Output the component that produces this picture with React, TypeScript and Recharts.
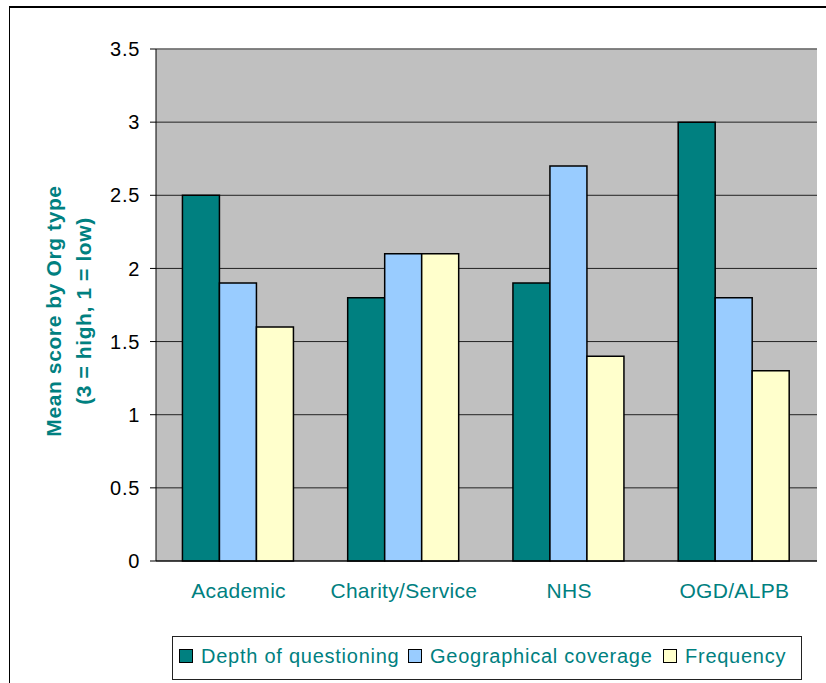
import { Bar, BarChart, CartesianGrid, Label, ReferenceLine, XAxis, YAxis } from 'recharts'

const orgTypes = ['Academic', 'Charity/Service', 'NHS', 'OGD/ALPB']
const depthOfQuestioning = [2.5, 1.8, 1.9, 3.0]
const geographicalCoverage = [1.9, 2.1, 2.7, 1.8]
const frequency = [1.6, 2.1, 1.4, 1.3]
const yTicks = [0, 0.5, 1, 1.5, 2, 2.5, 3, 3.5]
const categoryEdges = [0, 1, 2, 3, 4]
const yTitleLines = ['Mean score by Org type', '(3 = high, 1 = low)']

const series = [
  { key: 'depth', name: 'Depth of questioning', color: '#008080' },
  { key: 'geo', name: 'Geographical coverage', color: '#99CCFF' },
  { key: 'freq', name: 'Frequency', color: '#FFFFCC' },
]

const data = orgTypes.map((org, i) => ({
  org,
  depth: depthOfQuestioning[i],
  geo: geographicalCoverage[i],
  freq: frequency[i],
}))

const FONT = 'Arial, "Liberation Sans", sans-serif'
const TEAL = '#008080'

const legendPos = [179, 408, 663]
const titleX = [61, 91]

const YTitle = () => (
  <g>
    {yTitleLines.map((line, i) => (
      <text
        key={i}
        x={titleX[i]}
        y={311}
        transform={`rotate(-90 ${titleX[i]} 311)`}
        fontFamily={FONT}
        fontSize={21}
        fontWeight="bold"
        fill={TEAL}
        textAnchor="middle"
        letterSpacing={0.6}
      >
        {line}
      </text>
    ))}
  </g>
)

export default function App() {
  return (
    <div style={{ position: 'absolute', left: 0, top: 0, width: 826, height: 683, overflow: 'hidden', background: '#fff', fontFamily: FONT }}>
      <div style={{ position: 'absolute', left: 9, top: 6, width: 900, height: 800, borderLeft: '1.5px solid #000', borderTop: '2px solid #000' }} />
      <div style={{ position: 'absolute', left: 0, top: 0 }}>
        <BarChart width={826} height={683} data={data} margin={{ top: 49, right: 9, bottom: 61, left: 0 }} barCategoryGap="16%" barGap={0}>
          <CartesianGrid xAxisId="cat" vertical={false} stroke="#222" fill="#C0C0C0" fillOpacity={1} />
          <XAxis
            xAxisId="b"
            type="number"
            domain={[0, 4]}
            ticks={categoryEdges}
            tick={false}
            axisLine={{ stroke: '#000' }}
            tickSize={6}
            tickLine={{ stroke: '#000' }}
            height={1}
          />
          <XAxis
            xAxisId="cat"
            dataKey="org"
            height={60}
            tickLine={false}
            tickSize={0}
            tickMargin={21}
            axisLine={false}
            tick={{ fill: TEAL, fontSize: 21, fontFamily: FONT, letterSpacing: 0.3 }}
            interval={0}
          />
          <YAxis
            width={156}
            domain={[0, 3.5]}
            ticks={yTicks}
            tickSize={6}
            tickMargin={10}
            axisLine={{ stroke: '#000' }}
            tickLine={{ stroke: '#000' }}
            tick={{ fill: '#000', fontSize: 20, fontFamily: FONT, letterSpacing: 0.7 }}
          >
            <Label content={() => <YTitle />} />
          </YAxis>
          <ReferenceLine xAxisId="cat" y={3.5} stroke="#808080" strokeWidth={1.5} />
          <ReferenceLine xAxisId="b" x={4} stroke="#808080" strokeWidth={2} />
          {series.map((s) => (
            <Bar key={s.key} xAxisId="cat" dataKey={s.key} name={s.name} fill={s.color} stroke="#000" strokeWidth={1.5} isAnimationActive={false} />
          ))}
        </BarChart>
      </div>
      <div style={{ position: 'absolute', left: 172, top: 636, width: 628, height: 42, border: '1px solid #222' }} />
      {series.map((s, i) => (
        <div key={s.key}>
          <div
            style={{
              position: 'absolute',
              left: legendPos[i],
              top: 649,
              width: 12,
              height: 12,
              background: s.color,
              border: '1.5px solid #000',
            }}
          />
          <div
            style={{
              position: 'absolute',
              left: legendPos[i] + 22,
              top: 644,
              fontSize: 20,
              lineHeight: '24px',
              color: TEAL,
              letterSpacing: 0.75,
              whiteSpace: 'nowrap',
            }}
          >
            {s.name}
          </div>
        </div>
      ))}
    </div>
  )
}
